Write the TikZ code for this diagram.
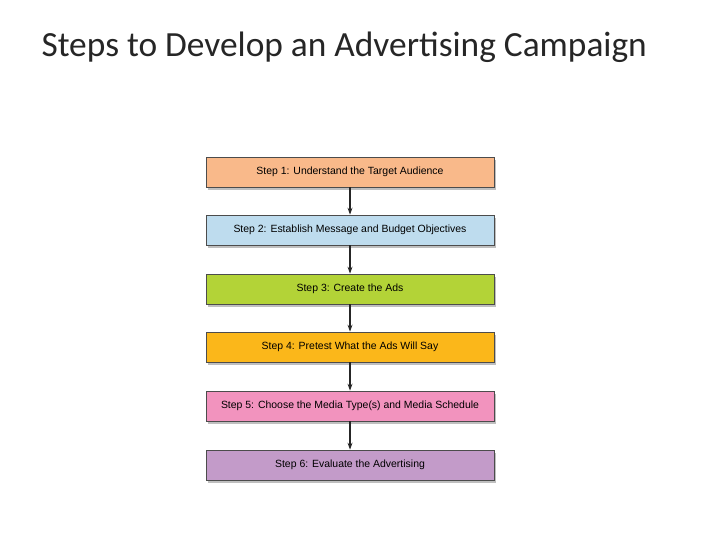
\documentclass[tikz,border=0pt]{standalone}
\usepackage{fontspec}
\setmainfont{Carlito}
\newfontfamily\boxfont{Liberation Sans}
\usetikzlibrary{positioning,shadows,arrows.meta}
\definecolor{stepA}{HTML}{F9B98A}
\definecolor{stepB}{HTML}{BEDCEE}
\definecolor{stepC}{HTML}{B3D337}
\definecolor{stepD}{HTML}{FBB71A}
\definecolor{stepE}{HTML}{F293BE}
\definecolor{stepF}{HTML}{C39BC9}
\begin{document}
\begin{tikzpicture}[
x=1bp, y=-1bp,
stepbox/.style={
draw=black!70,
line width=0.7pt,
minimum width=288bp,
minimum height=30bp,
font=\boxfont\fontsize{10.5}{12}\selectfont,
drop shadow={shadow xshift=2bp, shadow yshift=-3bp, opacity=0.5},
},
myedge/.style={
-{Stealth[length=7pt,width=5pt]},
line width=1.4pt,
black!85,
},
]
\useasboundingbox (0,0) rectangle (720,540);
\node[anchor=west, font=\fontsize{35.5}{40}\selectfont, text=black!85] at (38,47) (title) {Steps to Develop an Advertising Campaign};

\node[stepbox, fill=stepA] at (350,172) (1) {Step 1: Understand the Target Audience};
\node[stepbox, fill=stepB] at (350,230) (2) {Step 2: Establish Message and Budget Objectives};
\node[stepbox, fill=stepC] at (350,289) (3) {Step 3: Create the Ads};
\node[stepbox, fill=stepD] at (350,347) (4) {Step 4: Pretest What the Ads Will Say};
\node[stepbox, fill=stepE] at (350,406) (5) {Step 5: Choose the Media Type(s) and Media Schedule};
\node[stepbox, fill=stepF] at (350,465) (6) {Step 6: Evaluate the Advertising};

\foreach \a/\b in {1/2,2/3,3/4,4/5,5/6}
\draw[myedge] (\a.south) -- (\b.north);

\end{tikzpicture}
\end{document}
